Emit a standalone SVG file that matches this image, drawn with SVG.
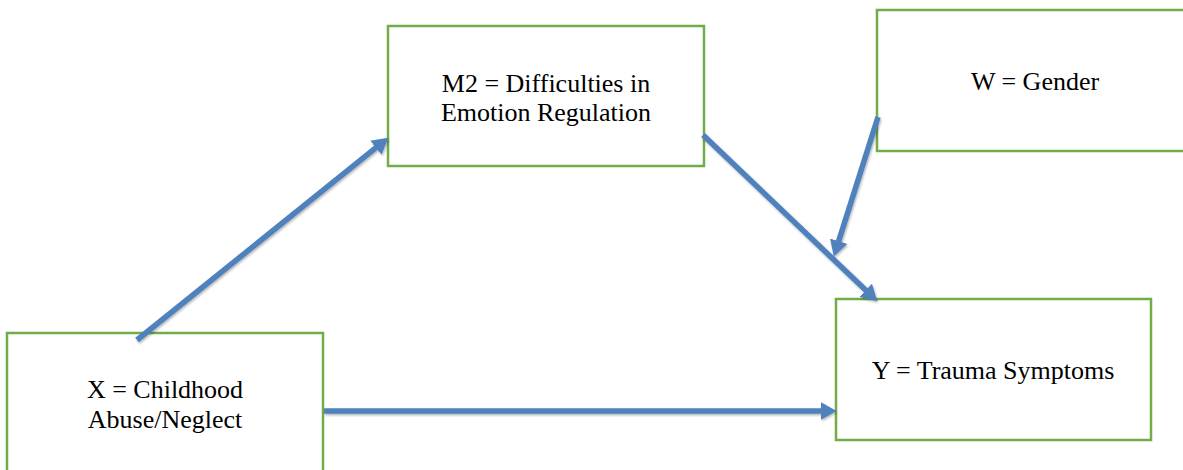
<svg xmlns="http://www.w3.org/2000/svg" width="1183" height="470" viewBox="0 0 1183 470">
<style>
.box{fill:#ffffff;stroke:#70AD47;stroke-width:2.5}
.lbl{font-family:'Liberation Serif','Times New Roman',serif;font-size:26px;fill:#000;text-anchor:middle}
.arr{stroke:#4F81BD;stroke-width:5.5;fill:none;marker-end:url(#ah);filter:url(#sh)}
</style>
<defs>
<marker id="ah" markerUnits="userSpaceOnUse" markerWidth="16" markerHeight="18" viewBox="0 0 16 18" refX="0.5" refY="9" orient="auto">
<path d="M0,0 L16,9 L0,18 z" fill="#4F81BD"/>
</marker>
<filter id="sh" filterUnits="userSpaceOnUse" x="0" y="0" width="1183" height="470">
<feDropShadow dx="1" dy="1.5" stdDeviation="1" flood-color="#000" flood-opacity="0.3"/>
</filter>
</defs>
<g id="node-m2">
<rect class="box" x="388" y="26" width="316" height="140"/>
<text class="lbl" font-family="Liberation Serif" x="546" y="92">M2 = Difficulties in</text>
<text class="lbl" font-family="Liberation Serif" x="546" y="121">Emotion Regulation</text>
</g>
<g id="node-w">
<rect class="box" x="877" y="10" width="320" height="141"/>
<text class="lbl" font-family="Liberation Serif" x="1035" y="90">W = Gender</text>
</g>
<g id="node-x">
<rect class="box" x="7" y="333" width="316" height="150"/>
<text class="lbl" font-family="Liberation Serif" x="165" y="398">X = Childhood</text>
<text class="lbl" font-family="Liberation Serif" x="165" y="428">Abuse/Neglect</text>
</g>
<g id="node-y">
<rect class="box" x="836" y="299" width="315" height="141"/>
<text class="lbl" font-family="Liberation Serif" x="993" y="379">Y = Trauma Symptoms</text>
</g>
<g id="connectors">
<line class="arr" x1="137" y1="340" x2="376.3" y2="147.4"/>
<line class="arr" x1="703" y1="135" x2="866.1" y2="290.6"/>
<line class="arr" x1="878" y1="117" x2="838.5" y2="241.7"/>
<line class="arr" x1="324" y1="411" x2="821" y2="411"/>
</g>
</svg>
